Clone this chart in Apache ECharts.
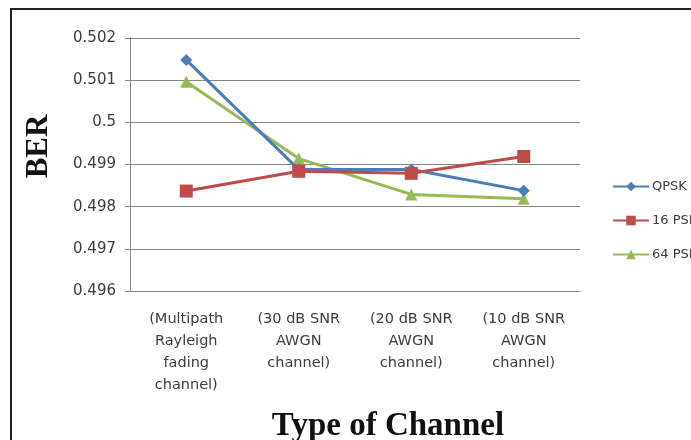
<!DOCTYPE html>
<html><head><meta charset="utf-8">
<script src="https://cdn.jsdelivr.net/npm/echarts@6/dist/echarts.min.js"></script>
<style>html,body{margin:0;padding:0;background:#fff}#c{width:691px;height:440px}</style>
</head><body><div id="c"></div>
<script>
const categories = ['(Multipath\nRayleigh\nfading\nchannel)', '(30 dB SNR\nAWGN\nchannel)', '(20 dB SNR\nAWGN\nchannel)', '(10 dB SNR\nAWGN\nchannel)'];
const qpsk = [0.50148, 0.49888, 0.49888, 0.49838];
const psk16 = [0.49837, 0.49884, 0.49879, 0.49919];
const psk64 = [0.50096, 0.49914, 0.49829, 0.49819];
const yTicks = { min: 0.496, max: 0.502, interval: 0.001 };

const chart = echarts.init(document.getElementById('c'));
const lbl = { fontFamily: '"DejaVu Sans", sans-serif', fontSize: 14, color: '#3c3c3c' };
const serif = { fontFamily: '"Liberation Serif", "Times New Roman", serif', fontWeight: 'bold', color: '#111' };
chart.setOption({
  animation: false,
  graphic: [{ type: 'rect', shape: { x: 11, y: 9, width: 720, height: 460 }, style: { fill: 'none', stroke: '#222', lineWidth: 2 } }],
  grid: { left: 130, top: 38, width: 450, height: 253, containLabel: false, outerBoundsMode: 'none' },
  xAxis: {
    type: 'category', data: categories, boundaryGap: true,
    name: 'Type of Channel', nameLocation: 'middle', nameGap: 119,
    nameTextStyle: Object.assign({ fontSize: 33, padding: [0, 0, 0, 66] }, serif),
    axisLine: { lineStyle: { color: '#858585', width: 1 } },
    axisTick: { alignWithLabel: true, length: 5, lineStyle: { color: '#858585' } },
    axisLabel: Object.assign({}, lbl, { margin: 17, lineHeight: 22, interval: 0, fontSize: 14.5 }),
    splitLine: { show: false }
  },
  yAxis: {
    type: 'value', min: yTicks.min, max: yTicks.max, interval: yTicks.interval,
    name: 'BER', nameLocation: 'middle', nameGap: 76, nameRotate: 90,
    nameTextStyle: Object.assign({ fontSize: 31, padding: [0, 0, 0, 36] }, serif),
    axisLine: { show: true, lineStyle: { color: '#858585', width: 1 } },
    axisTick: { show: true, length: 5, lineStyle: { color: '#858585' } },
    axisLabel: Object.assign({}, lbl, { margin: 14, fontSize: 15, formatter: v => String(+v.toFixed(3)) }),
    splitLine: { lineStyle: { color: '#858585', width: 1 } }
  },
  legend: {
    orient: 'vertical', left: 607, top: 175, itemWidth: 36, itemHeight: 12, itemGap: 21,
    textStyle: Object.assign({}, lbl, { fontSize: 13, padding: [0, 0, 0, -2] }),
    data: ['QPSK', '16 PSK', '64 PSK']
  },
  series: [
    { name: 'QPSK', type: 'line', data: qpsk, symbol: 'diamond', symbolSize: 12, color: '#4a7ebb', lineStyle: { width: 3 }, z: 3 },
    { name: '16 PSK', type: 'line', data: psk16, symbol: 'rect', symbolSize: 13, color: '#be4b48', lineStyle: { width: 3 }, z: 4 },
    { name: '64 PSK', type: 'line', data: psk64, symbol: 'triangle', symbolSize: 12, color: '#98b954', lineStyle: { width: 3 }, z: 2 }
  ]
});
</script></body></html>
